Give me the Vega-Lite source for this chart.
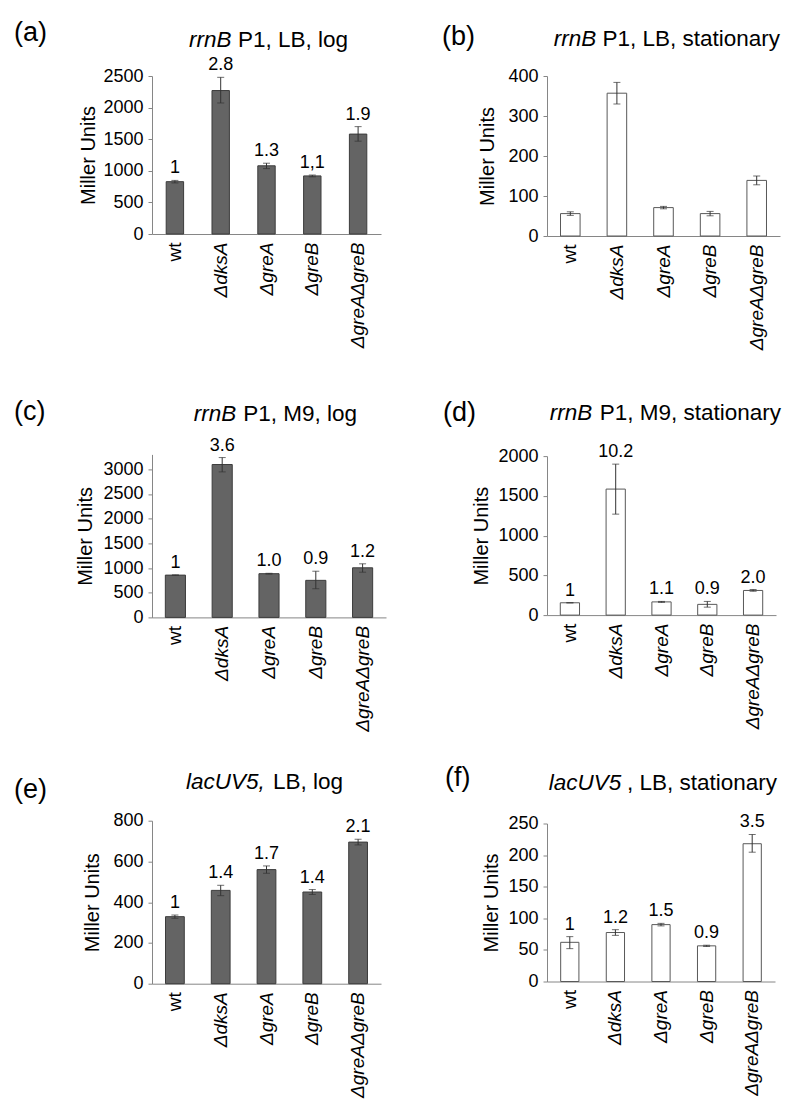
{
  "$schema": "https://vega.github.io/schema/vega-lite/v6.json",
  "padding": {"left": 13, "top": 19, "right": 5, "bottom": 5},
  "background": "white",
  "config": {
    "font": "Liberation Sans",
    "view": {"stroke": null},
    "title": {"fontWeight": "normal", "color": "#000000", "fontSize": 22.5},
    "axis": {"grid": false, "domainColor": "#868686", "tickColor": "#868686", "labelColor": "#000000", "titleColor": "#000000", "titleFontWeight": "normal", "labelFontSize": 18, "titleFontSize": 20},
    "axisY": {"tickSize": 4, "labelPadding": 5, "labelOverlap": false},
    "axisX": {"ticks": false, "labelAngle": -90, "labelPadding": 8, "labelFontSize": 19, "title": null}
  },
  "datasets": {
    "a": [
      {"g": "wt", "v": 828, "lo": 808, "hi": 848, "lab": "1"},
      {"g": "ΔdksA", "v": 2270, "lo": 2073, "hi": 2479, "lab": "2.8"},
      {"g": "ΔgreA", "v": 1079, "lo": 1035, "hi": 1120, "lab": "1.3"},
      {"g": "ΔgreB", "v": 919, "lo": 905, "hi": 933, "lab": "1,1"},
      {"g": "ΔgreAΔgreB", "v": 1581, "lo": 1469, "hi": 1699, "lab": "1.9"}
    ],
    "b": [
      {"g": "wt", "v": 56, "lo": 51.5, "hi": 60.5},
      {"g": "ΔdksA", "v": 357, "lo": 330, "hi": 384},
      {"g": "ΔgreA", "v": 71, "lo": 68, "hi": 74},
      {"g": "ΔgreB", "v": 56, "lo": 50.5, "hi": 61.5},
      {"g": "ΔgreAΔgreB", "v": 139, "lo": 128, "hi": 150}
    ],
    "c": [
      {"g": "wt", "v": 856, "lo": 852, "hi": 860, "lab": "1"},
      {"g": "ΔdksA", "v": 3095, "lo": 2946, "hi": 3236, "lab": "3.6"},
      {"g": "ΔgreA", "v": 885, "lo": 877, "hi": 893, "lab": "1.0"},
      {"g": "ΔgreB", "v": 750, "lo": 580, "hi": 935, "lab": "0.9"},
      {"g": "ΔgreAΔgreB", "v": 1004, "lo": 915, "hi": 1085, "lab": "1.2"}
    ],
    "d": [
      {"g": "wt", "v": 155, "lo": 155, "hi": 155, "lab": "1"},
      {"g": "ΔdksA", "v": 1585, "lo": 1270, "hi": 1899, "lab": "10.2"},
      {"g": "ΔgreA", "v": 166, "lo": 160, "hi": 172, "lab": "1.1"},
      {"g": "ΔgreB", "v": 135, "lo": 100, "hi": 172, "lab": "0.9"},
      {"g": "ΔgreAΔgreB", "v": 310, "lo": 300, "hi": 322, "lab": "2.0"}
    ],
    "e": [
      {"g": "wt", "v": 329, "lo": 321, "hi": 337, "lab": "1"},
      {"g": "ΔdksA", "v": 458, "lo": 432, "hi": 483, "lab": "1.4"},
      {"g": "ΔgreA", "v": 560, "lo": 542, "hi": 578, "lab": "1.7"},
      {"g": "ΔgreB", "v": 450, "lo": 438, "hi": 462, "lab": "1.4"},
      {"g": "ΔgreAΔgreB", "v": 695, "lo": 681, "hi": 709, "lab": "2.1"}
    ],
    "f": [
      {"g": "wt", "v": 62, "lo": 52, "hi": 71, "lab": "1"},
      {"g": "ΔdksA", "v": 77.5, "lo": 73, "hi": 82, "lab": "1.2"},
      {"g": "ΔgreA", "v": 90, "lo": 88, "hi": 92, "lab": "1.5"},
      {"g": "ΔgreB", "v": 56.4, "lo": 55.4, "hi": 57.4, "lab": "0.9"},
      {"g": "ΔgreAΔgreB", "v": 218, "lo": 204.6, "hi": 232.6, "lab": "3.5"}
    ]
  },
  "spacing": 55,
  "hconcat": [
    {
      "spacing": 49.4,
      "vconcat": [
        {
          "title": {"text": "(a)", "orient": "left", "anchor": "end", "frame": "bounds", "angle": 0, "align": "left", "baseline": "top", "offset": 32, "dy": -8.6, "fontSize": 27},
          "vconcat": [{
            "title": {"text": "P1, LB, log", "anchor": "end", "frame": "bounds", "offset": 0, "dy": 22.5, "dx": -33},
            "vconcat": [{
              "title": {"text": "rrnB", "fontStyle": "italic", "anchor": "start", "frame": "group", "dx": 37, "offset": 5.2},
              "width": 229, "height": 158,
              "data": {"name": "a"},
              "encoding": {"x": {"field": "g", "type": "nominal", "sort": null, "scale": {"paddingInner": 0.62, "paddingOuter": 0.31}, "axis": {"labelFontStyle": {"condition": {"test": "datum.value === 'wt'", "value": "normal"}, "value": "italic"}}}},
              "layer": [
                {"mark": {"type": "bar", "fill": "#646464", "stroke": "#3c3c3c", "strokeWidth": 1}, "encoding": {"y": {"field": "v", "type": "quantitative", "scale": {"domain": [0, 2500], "nice": false}, "axis": {"title": "Miller Units", "values": [0, 500, 1000, 1500, 2000, 2500], "format": "d", "labelOverlap": false, "titlePadding": 4}}}},
                {"mark": {"type": "errorbar", "color": "#333333", "thickness": 1, "ticks": {"size": 7}}, "encoding": {"y": {"field": "lo", "type": "quantitative", "scale": {"domain": [0, 2500], "nice": false}, "axis": {"title": "Miller Units", "values": [0, 500, 1000, 1500, 2000, 2500], "format": "d", "labelOverlap": false, "titlePadding": 4}}, "y2": {"field": "hi"}}},
                {"mark": {"type": "text", "baseline": "bottom", "dy": -3, "fontSize": 18, "color": "#000000"}, "encoding": {"y": {"field": "hi", "type": "quantitative", "scale": {"domain": [0, 2500], "nice": false}, "axis": {"title": "Miller Units", "values": [0, 500, 1000, 1500, 2000, 2500], "format": "d", "labelOverlap": false, "titlePadding": 4}}, "text": {"field": "lab"}}}
              ]
            }]
          }]
        },
        {
          "spacing": 38.3,
          "vconcat": [
            {
              "title": {"text": "(c)", "orient": "left", "anchor": "end", "frame": "bounds", "angle": 0, "align": "left", "baseline": "top", "offset": 30.5, "dy": -3.2, "fontSize": 27},
              "vconcat": [{
                "title": {"text": "P1, M9, log", "anchor": "end", "frame": "bounds", "offset": 0, "dy": 22.5, "dx": -29},
                "vconcat": [{
                  "title": {"text": "rrnB", "fontStyle": "italic", "anchor": "start", "frame": "group", "dx": 41.7, "offset": 11.5},
                  "width": 234, "height": 163,
                  "data": {"name": "c"},
                  "encoding": {"x": {"field": "g", "type": "nominal", "sort": null, "scale": {"paddingInner": 0.57, "paddingOuter": 0.285}, "axis": {"labelFontStyle": {"condition": {"test": "datum.value === 'wt'", "value": "normal"}, "value": "italic"}}}},
                  "layer": [
                    {"mark": {"type": "bar", "fill": "#646464", "stroke": "#3c3c3c", "strokeWidth": 1}, "encoding": {"y": {"field": "v", "type": "quantitative", "scale": {"domain": [0, 3300], "nice": false}, "axis": {"title": "Miller Units", "values": [0, 500, 1000, 1500, 2000, 2500, 3000], "format": "d", "labelOverlap": false, "titlePadding": 7}}}},
                    {"mark": {"type": "errorbar", "color": "#333333", "thickness": 1, "ticks": {"size": 7}}, "encoding": {"y": {"field": "lo", "type": "quantitative", "scale": {"domain": [0, 3300], "nice": false}, "axis": {"title": "Miller Units", "values": [0, 500, 1000, 1500, 2000, 2500, 3000], "format": "d", "labelOverlap": false, "titlePadding": 7}}, "y2": {"field": "hi"}}},
                    {"mark": {"type": "text", "baseline": "bottom", "dy": -3, "fontSize": 18, "color": "#000000"}, "encoding": {"y": {"field": "hi", "type": "quantitative", "scale": {"domain": [0, 3300], "nice": false}, "axis": {"title": "Miller Units", "values": [0, 500, 1000, 1500, 2000, 2500, 3000], "format": "d", "labelOverlap": false, "titlePadding": 7}}, "text": {"field": "lab"}}}
                  ]
                }]
              }]
            },
            {
              "title": {"text": "(e)", "orient": "left", "anchor": "end", "frame": "bounds", "angle": 0, "align": "left", "baseline": "top", "offset": 36, "dy": 6.3, "fontSize": 27},
              "vconcat": [{
                "title": {"text": "LB, log", "anchor": "end", "frame": "bounds", "offset": 0, "dy": 22.5, "dx": -38},
                "vconcat": [{
                  "title": {"text": "lacUV5,", "fontStyle": "italic", "anchor": "start", "frame": "group", "dx": 34, "offset": 18.6},
                  "width": 229, "height": 163,
                  "data": {"name": "e"},
                  "encoding": {"x": {"field": "g", "type": "nominal", "sort": null, "scale": {"paddingInner": 0.59, "paddingOuter": 0.295}, "axis": {"labelFontStyle": {"condition": {"test": "datum.value === 'wt'", "value": "normal"}, "value": "italic"}}}},
                  "layer": [
                    {"mark": {"type": "bar", "fill": "#646464", "stroke": "#3c3c3c", "strokeWidth": 1}, "encoding": {"y": {"field": "v", "type": "quantitative", "scale": {"domain": [0, 800], "nice": false}, "axis": {"title": "Miller Units", "values": [0, 200, 400, 600, 800], "format": "d", "labelOverlap": false, "titlePadding": 10}}}},
                    {"mark": {"type": "errorbar", "color": "#333333", "thickness": 1, "ticks": {"size": 7}}, "encoding": {"y": {"field": "lo", "type": "quantitative", "scale": {"domain": [0, 800], "nice": false}, "axis": {"title": "Miller Units", "values": [0, 200, 400, 600, 800], "format": "d", "labelOverlap": false, "titlePadding": 10}}, "y2": {"field": "hi"}}},
                    {"mark": {"type": "text", "baseline": "bottom", "dy": -3, "fontSize": 18, "color": "#000000"}, "encoding": {"y": {"field": "hi", "type": "quantitative", "scale": {"domain": [0, 800], "nice": false}, "axis": {"title": "Miller Units", "values": [0, 200, 400, 600, 800], "format": "d", "labelOverlap": false, "titlePadding": 10}}, "text": {"field": "lab"}}}
                  ]
                }]
              }]
            }
          ]
        }
      ]
    },
    {
      "spacing": 48.1,
      "vconcat": [
        {
          "title": {"text": "(b)", "orient": "left", "anchor": "end", "frame": "bounds", "angle": 0, "align": "left", "baseline": "top", "offset": 3, "dy": -3.9, "fontSize": 27},
          "vconcat": [{
            "title": {"text": "P1, LB, stationary", "anchor": "end", "frame": "bounds", "offset": 0, "dy": 22.5, "dx": 0},
            "vconcat": [{
              "title": {"text": "rrnB", "fontStyle": "italic", "anchor": "start", "frame": "group", "dx": 6.7, "offset": 16.2},
              "width": 233, "height": 160,
              "data": {"name": "b"},
              "encoding": {"x": {"field": "g", "type": "nominal", "sort": null, "scale": {"paddingInner": 0.58, "paddingOuter": 0.29}, "axis": {"labelFontStyle": {"condition": {"test": "datum.value === 'wt'", "value": "normal"}, "value": "italic"}}}},
              "layer": [
                {"mark": {"type": "bar", "fill": "#ffffff", "stroke": "#595959", "strokeWidth": 1}, "encoding": {"y": {"field": "v", "type": "quantitative", "scale": {"domain": [0, 400], "nice": false}, "axis": {"title": "Miller Units", "values": [0, 100, 200, 300, 400], "format": "d", "labelOverlap": false, "titlePadding": 10}}}},
                {"mark": {"type": "errorbar", "color": "#333333", "thickness": 1, "ticks": {"size": 7}}, "encoding": {"y": {"field": "lo", "type": "quantitative", "scale": {"domain": [0, 400], "nice": false}, "axis": {"title": "Miller Units", "values": [0, 100, 200, 300, 400], "format": "d", "labelOverlap": false, "titlePadding": 10}}, "y2": {"field": "hi"}}}
              ]
            }]
          }]
        },
        {
          "spacing": 34.4,
          "vconcat": [
            {
              "title": {"text": "(d)", "orient": "left", "anchor": "end", "frame": "bounds", "angle": 0, "align": "left", "baseline": "top", "offset": -4, "dy": -2.5, "fontSize": 27},
              "vconcat": [{
                "title": {"text": "P1, M9, stationary", "anchor": "end", "frame": "bounds", "offset": 0, "dy": 22.5, "dx": 5},
                "vconcat": [{
                  "title": {"text": "rrnB", "fontStyle": "italic", "anchor": "start", "frame": "group", "dx": 2.7, "offset": 18.3},
                  "width": 229, "height": 159,
                  "data": {"name": "d"},
                  "encoding": {"x": {"field": "g", "type": "nominal", "sort": null, "scale": {"paddingInner": 0.58, "paddingOuter": 0.29}, "axis": {"labelFontStyle": {"condition": {"test": "datum.value === 'wt'", "value": "normal"}, "value": "italic"}}}},
                  "layer": [
                    {"mark": {"type": "bar", "fill": "#ffffff", "stroke": "#595959", "strokeWidth": 1}, "encoding": {"y": {"field": "v", "type": "quantitative", "scale": {"domain": [0, 2000], "nice": false}, "axis": {"title": "Miller Units", "values": [0, 500, 1000, 1500, 2000], "format": "d", "labelOverlap": false, "titlePadding": 6}}}},
                    {"mark": {"type": "errorbar", "color": "#333333", "thickness": 1, "ticks": {"size": 7}}, "encoding": {"y": {"field": "lo", "type": "quantitative", "scale": {"domain": [0, 2000], "nice": false}, "axis": {"title": "Miller Units", "values": [0, 500, 1000, 1500, 2000], "format": "d", "labelOverlap": false, "titlePadding": 6}}, "y2": {"field": "hi"}}},
                    {"mark": {"type": "text", "baseline": "bottom", "dy": -3, "fontSize": 18, "color": "#000000"}, "encoding": {"y": {"field": "hi", "type": "quantitative", "scale": {"domain": [0, 2000], "nice": false}, "axis": {"title": "Miller Units", "values": [0, 500, 1000, 1500, 2000], "format": "d", "labelOverlap": false, "titlePadding": 6}}, "text": {"field": "lab"}}}
                  ]
                }]
              }]
            },
            {
              "title": {"text": "(f)", "orient": "left", "anchor": "end", "frame": "bounds", "angle": 0, "align": "left", "baseline": "top", "offset": 11.5, "dy": -6.2, "fontSize": 27},
              "vconcat": [{
                "title": {"text": ", LB, stationary", "anchor": "end", "frame": "bounds", "offset": 0, "dy": 22.5, "dx": 2},
                "vconcat": [{
                  "title": {"text": "lacUV5", "fontStyle": "italic", "anchor": "start", "frame": "group", "dx": 1.7, "offset": 19.3},
                  "width": 228, "height": 158,
                  "data": {"name": "f"},
                  "encoding": {"x": {"field": "g", "type": "nominal", "sort": null, "scale": {"paddingInner": 0.6, "paddingOuter": 0.3}, "axis": {"labelFontStyle": {"condition": {"test": "datum.value === 'wt'", "value": "normal"}, "value": "italic"}}}},
                  "layer": [
                    {"mark": {"type": "bar", "fill": "#ffffff", "stroke": "#595959", "strokeWidth": 1}, "encoding": {"y": {"field": "v", "type": "quantitative", "scale": {"domain": [0, 250], "nice": false}, "axis": {"title": "Miller Units", "values": [0, 50, 100, 150, 200, 250], "format": "d", "labelOverlap": false, "titlePadding": 6}}}},
                    {"mark": {"type": "errorbar", "color": "#333333", "thickness": 1, "ticks": {"size": 7}}, "encoding": {"y": {"field": "lo", "type": "quantitative", "scale": {"domain": [0, 250], "nice": false}, "axis": {"title": "Miller Units", "values": [0, 50, 100, 150, 200, 250], "format": "d", "labelOverlap": false, "titlePadding": 6}}, "y2": {"field": "hi"}}},
                    {"mark": {"type": "text", "baseline": "bottom", "dy": -3, "fontSize": 18, "color": "#000000"}, "encoding": {"y": {"field": "hi", "type": "quantitative", "scale": {"domain": [0, 250], "nice": false}, "axis": {"title": "Miller Units", "values": [0, 50, 100, 150, 200, 250], "format": "d", "labelOverlap": false, "titlePadding": 6}}, "text": {"field": "lab"}}}
                  ]
                }]
              }]
            }
          ]
        }
      ]
    }
  ]
}
